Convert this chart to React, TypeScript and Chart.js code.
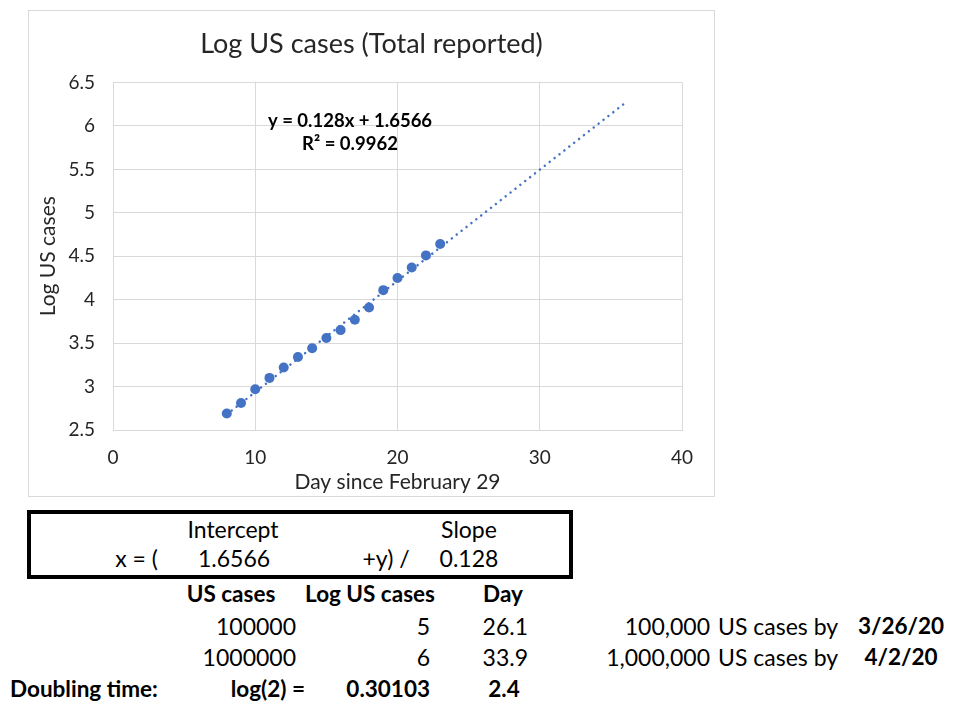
import React, { useEffect, useRef } from "react";
import { Chart, registerables } from "chart.js";

Chart.register(...registerables);

// ---- data ----
const days = [8, 9, 10, 11, 12, 13, 14, 15, 16, 17, 18, 19, 20, 21, 22, 23];
const logUsCases = [2.69, 2.81, 2.97, 3.1, 3.22, 3.34, 3.44, 3.56, 3.65, 3.77, 3.91, 4.11, 4.25, 4.37, 4.51, 4.64];
const trendSlope = 0.128;
const trendIntercept = 1.6566;
const trendDays = [8, 36];
const rSquared = 0.9962;
const xMin = 0;
const xMax = 40;
const xStep = 10;
const yMin = 2.5;
const yMax = 6.5;
const yStep = 0.5;
const eqAnchorDay = 16.66;
const eqAnchorLog = [6.06, 5.79];

// table below chart
const tableHeaderTop = ["Intercept", "Slope"];
const formulaParts = ["x = (", "1.6566", "+y) /", "0.128"];
const tableColumns = ["US cases", "Log US cases", "Day"];
const targetCases = ["100000", "1000000"];
const targetLogs = ["5", "6"];
const targetDays = ["26.1", "33.9"];
const targetCasesFmt = ["100,000", "1,000,000"];
const targetDates = ["3/26/20", "4/2/20"];
const doublingRow = ["Doubling time:", "log(2) =", "0.30103", "2.4"];

const FONT = "Lato, 'Open Sans', sans-serif";
const BLUE = "#4472C4";
const GRID = "#d9d9d9";
const TXT = "#262626";

const eqPlugin = {
  id: "eqLabel",
  afterDatasetsDraw(chart: any) {
    const { ctx, scales } = chart;
    const xs = scales.x;
    const ys = scales.y;
    ctx.save();
    ctx.font = `bold 18.5px ${FONT}`;
    ctx.fillStyle = "#000";
    ctx.textAlign = "center";
    ctx.textBaseline = "middle";
    ctx.fillText(`y = ${trendSlope}x + ${trendIntercept}`, xs.getPixelForValue(eqAnchorDay), ys.getPixelForValue(eqAnchorLog[0]));
    ctx.fillText(`R² = ${rSquared}`, xs.getPixelForValue(eqAnchorDay), ys.getPixelForValue(eqAnchorLog[1]));
    ctx.restore();
  },
};

function ChartBox() {
  const ref = useRef<HTMLCanvasElement>(null);
  useEffect(() => {
    if (!ref.current) return;
    const points = days.map((d, i) => ({ x: d, y: logUsCases[i] }));
    const trend = trendDays.map((d) => ({ x: d, y: trendSlope * d + trendIntercept }));
    const chart = new Chart(ref.current, {
      type: "scatter",
      data: {
        datasets: [
          {
            data: points,
            backgroundColor: BLUE,
            borderColor: BLUE,
            pointRadius: 5,
            pointHoverRadius: 5,
            borderWidth: 0,
          } as any,
          {
            type: "line",
            data: trend,
            borderColor: BLUE,
            borderWidth: 2.5,
            borderDash: [0.01, 6.2],
            borderCapStyle: "round",
            pointRadius: 0,
            fill: false,
            showLine: true,
          } as any,
        ],
      },
      options: {
        responsive: false,
        animation: false,
        devicePixelRatio: 1,
        layout: { padding: { left: 0, right: 0, top: 0, bottom: 0 } },
        plugins: {
          legend: { display: false },
          tooltip: { enabled: false },
          title: {
            display: true,
            text: "Log US cases (Total reported)",
            color: TXT,
            font: { family: FONT, size: 27, weight: "normal" },
            padding: { top: 16.8, bottom: 22.3 },
          },
        },
        scales: {
          x: {
            type: "linear",
            min: xMin,
            max: xMax,
            ticks: { stepSize: xStep, color: TXT, font: { family: FONT, size: 19 }, padding: 16 },
            grid: { color: GRID, lineWidth: 1, drawTicks: false },
            border: { color: GRID },
            title: {
              display: true,
              text: "Day since February 29",
              color: TXT,
              font: { family: FONT, size: 21 },
              padding: { top: 0, bottom: 1.4 },
            },
            afterFit: (s: any) => {
              s.height = 66;
            },
          },
          y: {
            type: "linear",
            min: yMin,
            max: yMax,
            ticks: {
              stepSize: yStep,
              color: TXT,
              font: { family: FONT, size: 19 },
              padding: 18,
              callback: (v: any) => String(v),
            },
            grid: { color: GRID, lineWidth: 1, drawTicks: false },
            border: { color: GRID },
            title: {
              display: true,
              text: "Log US cases",
              color: TXT,
              font: { family: FONT, size: 21 },
              padding: { top: 7, bottom: 0 },
            },
            afterFit: (s: any) => {
              s.width = 84;
            },
          },
          yRightSpace: {
            type: "linear",
            position: "right",
            display: true,
            min: yMin,
            max: yMax,
            grid: { display: false, drawTicks: false },
            border: { display: false },
            ticks: { display: false },
            afterFit: (s: any) => {
              s.width = 32;
            },
          },
        },
      },
      plugins: [eqPlugin],
    });
    return () => chart.destroy();
  }, []);
  return (
    <div
      style={{
        position: "absolute",
        left: 28,
        top: 10,
        width: 685,
        height: 485,
        border: `1px solid ${GRID}`,
      }}
    >
      <canvas ref={ref} width={685} height={485} style={{ display: "block", width: 685, height: 485 }} />
    </div>
  );
}

type TProps = { x: number; y: number; a?: "l" | "c" | "r"; b?: boolean; children: React.ReactNode };
function T({ x, y, a = "l", b = false, children }: TProps) {
  const tx = a === "l" ? "0" : a === "c" ? "-50%" : "-100%";
  return (
    <span
      style={{
        position: "absolute",
        left: x,
        top: y,
        transform: `translate(${tx}, -50%)`,
        whiteSpace: "nowrap",
        fontFamily: FONT,
        fontSize: b ? 22.5 : 23,
        fontWeight: b ? 700 : 400,
        color: "#000",
        lineHeight: 1,
      }}
    >
      {children}
    </span>
  );
}

export default function App() {
  return (
    <div style={{ position: "fixed", left: 0, top: 0, width: 954, height: 704, background: "#fff", overflow: "hidden" }}>
      <ChartBox />
      <div
        style={{
          position: "absolute",
          left: 27,
          top: 510,
          width: 546,
          height: 69,
          border: "4px solid #000",
          boxSizing: "border-box",
        }}
      />
      <T x={233} y={529} a="c">{tableHeaderTop[0]}</T>
      <T x={469} y={529} a="c">{tableHeaderTop[1]}</T>
      <T x={158} y={558} a="r">{formulaParts[0]}</T>
      <T x={234} y={558} a="c">{formulaParts[1]}</T>
      <T x={386} y={558} a="c">{formulaParts[2]}</T>
      <T x={469} y={558} a="c">{formulaParts[3]}</T>

      <T x={231} y={594} a="c" b>{tableColumns[0]}</T>
      <T x={370} y={594} a="c" b>{tableColumns[1]}</T>
      <T x={503} y={594} a="c" b>{tableColumns[2]}</T>

      {[626, 657].map((yy, i) => (
        <React.Fragment key={i}>
          <T x={296} y={yy} a="r">{targetCases[i]}</T>
          <T x={430} y={yy} a="r">{targetLogs[i]}</T>
          <T x={528} y={yy} a="r">{targetDays[i]}</T>
          <T x={710} y={yy} a="r">{targetCasesFmt[i]}</T>
          <T x={718} y={yy} a="l">US cases by</T>
          <T x={901} y={yy} a="c" b>{targetDates[i]}</T>
        </React.Fragment>
      ))}

      <T x={10} y={689} a="l" b>{doublingRow[0]}</T>
      <T x={305} y={689} a="r" b>{doublingRow[1]}</T>
      <T x={430} y={689} a="r" b>{doublingRow[2]}</T>
      <T x={504} y={689} a="c" b>{doublingRow[3]}</T>
    </div>
  );
}
